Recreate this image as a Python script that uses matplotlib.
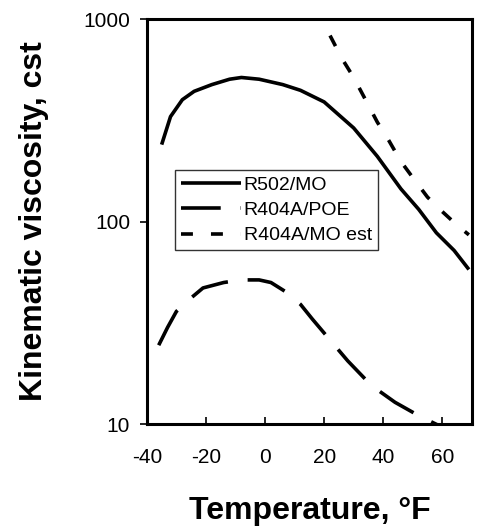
import matplotlib.pyplot as plt
from matplotlib.ticker import NullLocator, FixedLocator, FixedFormatter

plt.rcParams['font.family'] = ['Liberation Sans', 'DejaVu Sans']
plt.rcParams['axes.unicode_minus'] = False

# R502/MO (solid)
t_r502 = [-35, -32, -28, -24, -18, -12, -8, -2, 6, 12, 20, 30, 38, 46, 52, 58, 64, 69]
v_r502 = [240, 330, 400, 440, 475, 505, 515, 505, 475, 445, 390, 290, 210, 145, 115, 88, 72, 58]

# R404A/POE (long dash)
t_poe = [-36, -33, -30, -25, -21, -14, -8, -2, 2, 7, 12, 16, 22, 28, 36, 44, 52, 59]
v_poe = [24.5, 30, 36, 42, 47, 50, 51.5, 51.5, 50, 45, 39, 33, 26, 20.5, 15.5, 12.8, 11, 9.8]

# R404A/MO est (short dash)
t_est = [22, 26, 30, 34, 38, 42, 46, 50, 55, 60, 65, 69]
v_est = [830, 640, 515, 400, 310, 250, 198, 165, 132, 112, 96, 86]

xticks = [-40, -20, 0, 20, 40, 60]
yticks = [10, 100, 1000]

fig = plt.figure(figsize=(4.8, 5.32), dpi=100)
ax = fig.add_axes([0.306, 0.203, 0.677, 0.761])

ax.plot(t_r502, v_r502, color='black', lw=2.6, solid_capstyle='butt', label='R502/MO')
ax.plot(t_poe, v_poe, color='black', lw=2.6, dashes=(11, 5.5), label='R404A/POE')
ax.plot(t_est, v_est, color='black', lw=2.6, dashes=(3.3, 5), label='R404A/MO est')

ax.set_yscale('log')
ax.set_xlim(-40, 70)
ax.set_ylim(10, 1000)
ax.xaxis.set_major_locator(FixedLocator(xticks))
ax.yaxis.set_major_locator(FixedLocator(yticks))
ax.yaxis.set_major_formatter(FixedFormatter([str(v) for v in yticks]))
ax.yaxis.set_minor_locator(NullLocator())
ax.tick_params(axis='x', direction='in', length=5, width=1.2, labelsize=15, pad=17)
ax.tick_params(axis='y', direction='out', length=5, width=1.2, labelsize=15, pad=7)

for s in ax.spines.values():
    s.set_linewidth(2.2)

ax.set_xlabel('Temperature, °F', fontsize=23, fontweight='bold', labelpad=21)
ax.set_ylabel('Kinematic viscosity, cst', fontsize=23, fontweight='bold', labelpad=25)

leg = ax.legend(loc='upper left', bbox_to_anchor=(0.086, 0.627), borderaxespad=0,
                fontsize=14, frameon=True, fancybox=False, edgecolor='black',
                borderpad=0.3, handlelength=3.1, handletextpad=0.15, labelspacing=0.4)
leg.get_frame().set_linewidth(1.0)

fig.savefig('out.png', dpi=100)
